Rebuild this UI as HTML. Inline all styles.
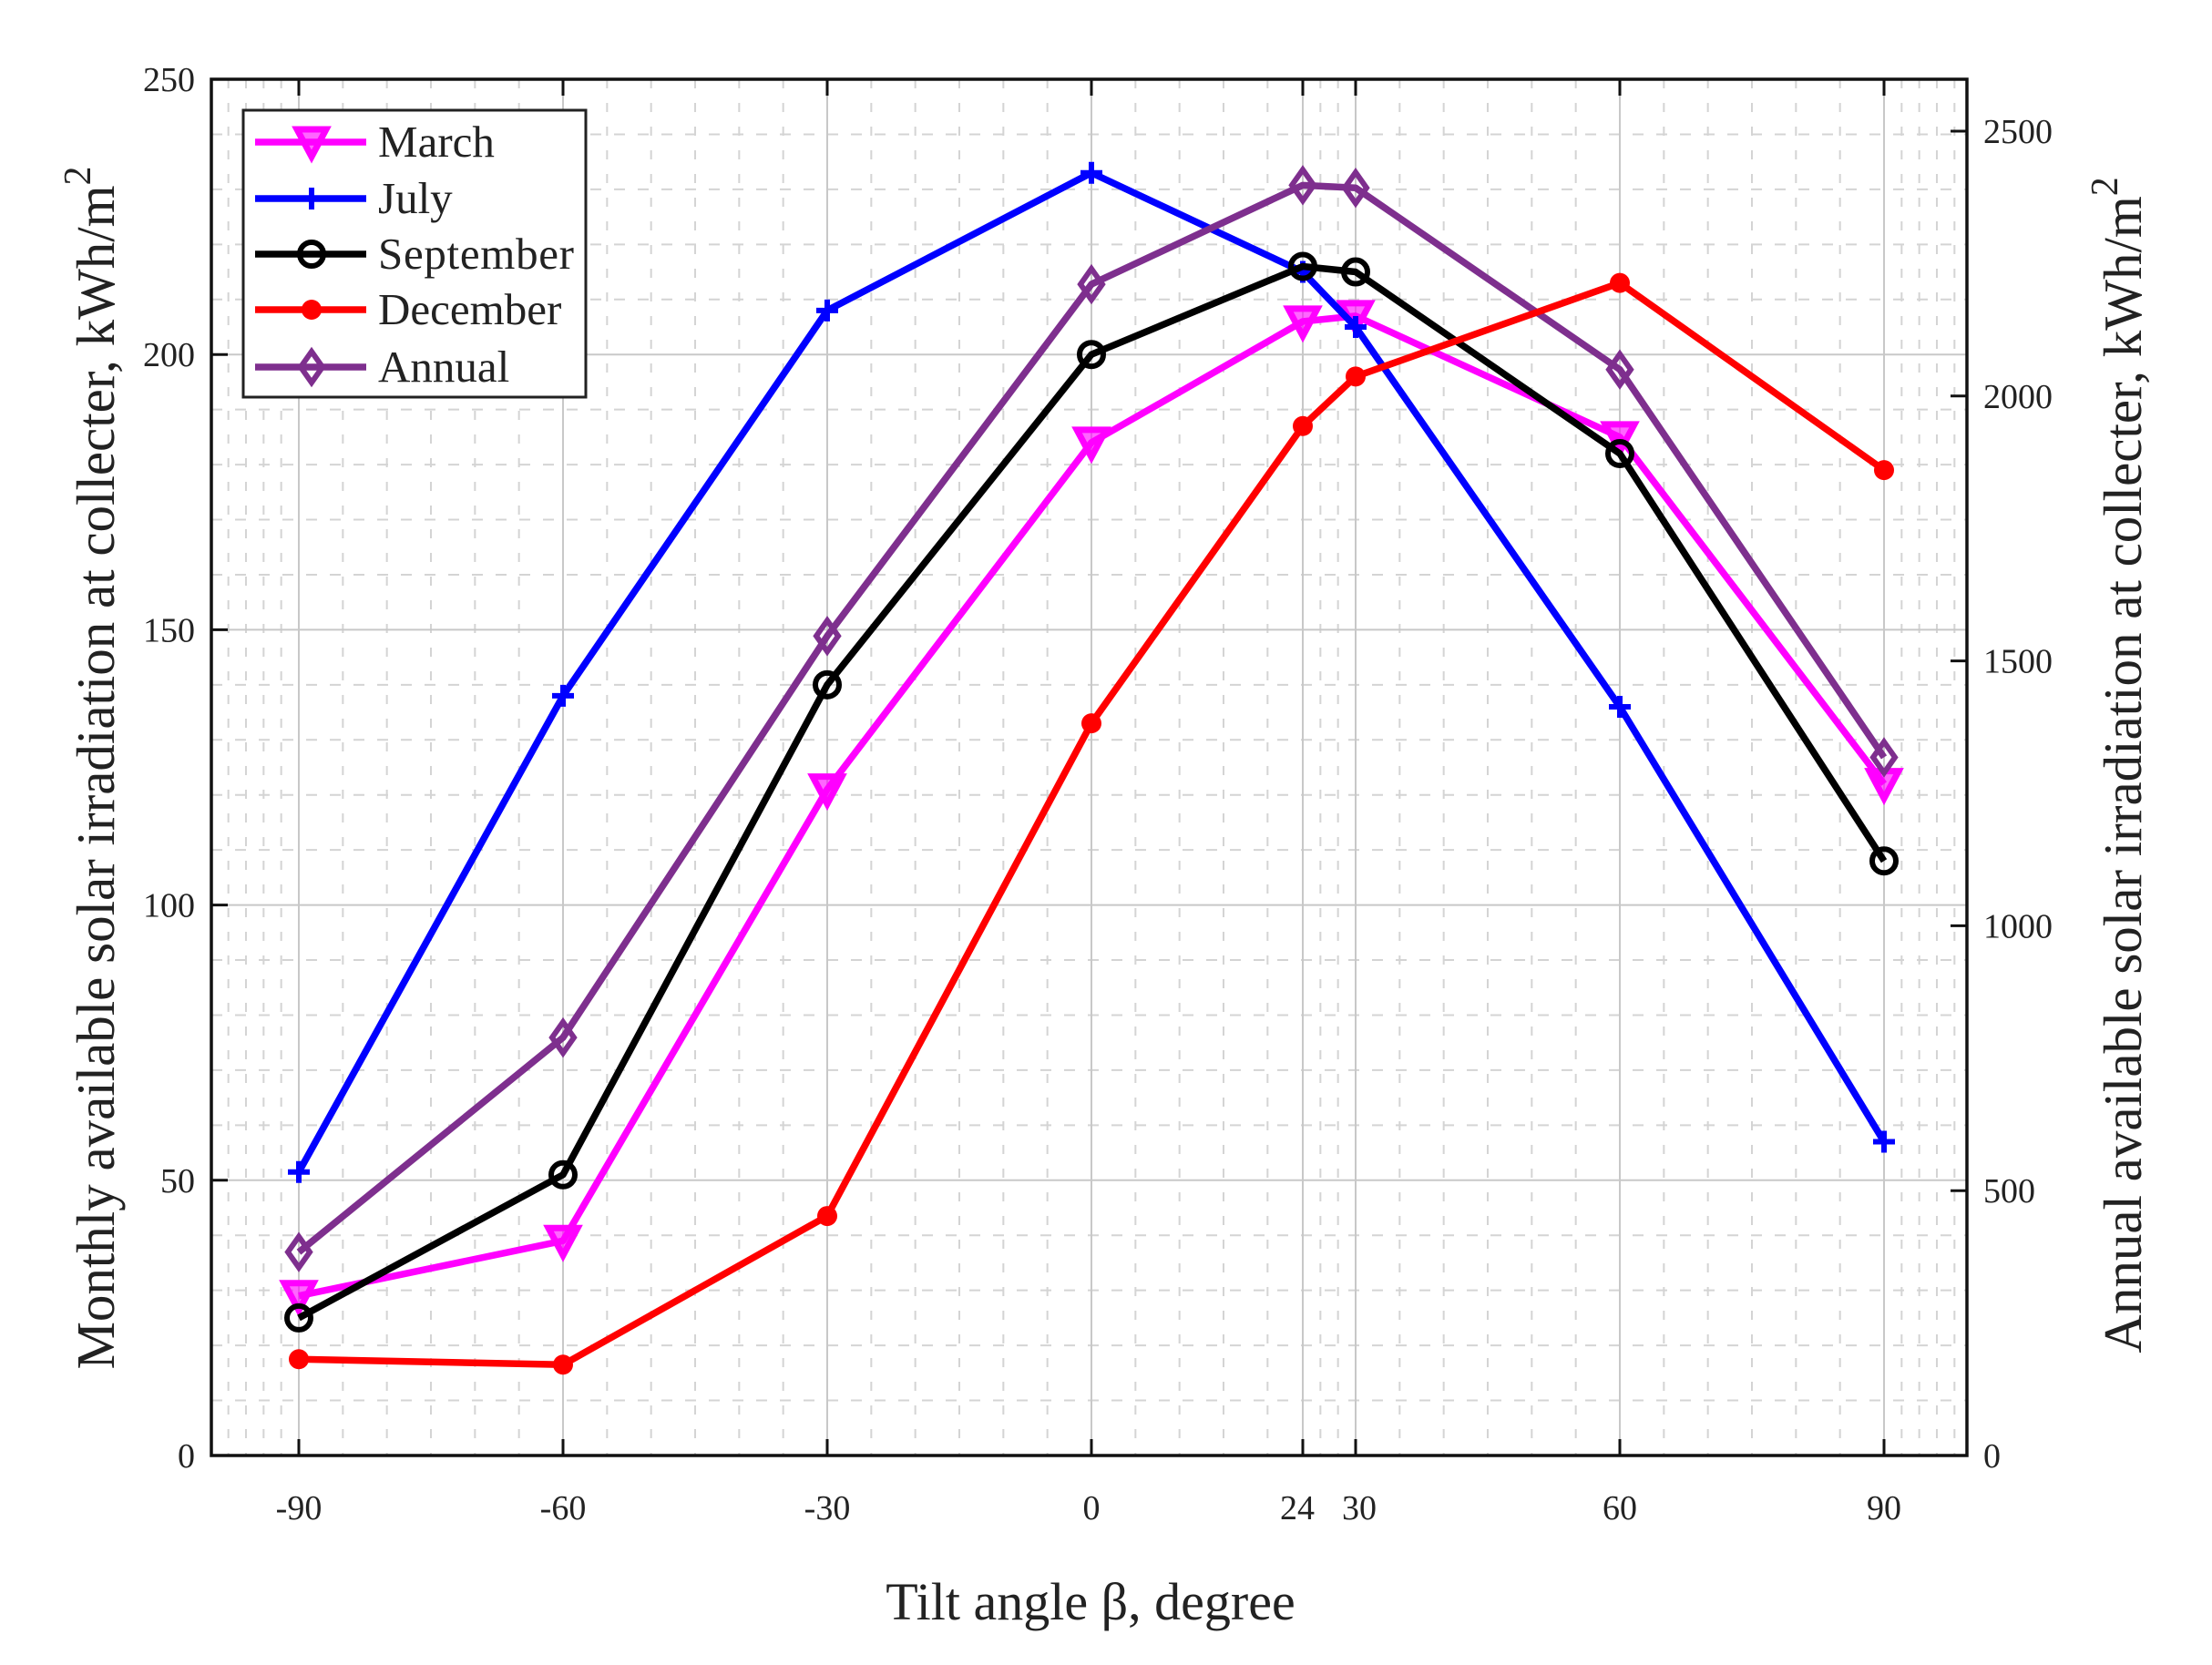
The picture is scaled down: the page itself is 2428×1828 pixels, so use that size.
<!DOCTYPE html>
<html><head><meta charset="utf-8"><style>
html,body{margin:0;padding:0;background:#fff;}
svg{display:block;}
text{font-family:"Liberation Serif",serif;fill:#222;}
</style></head><body>
<svg id="chart" width="2428" height="1828" viewBox="0 0 2428 1828">
<g id="grid"></g>
<g id="series"></g>
<g id="axes"></g>
<g id="legend"></g>
</svg>
<script>
const categories = [-90, -60, -30, 0, 24, 30, 60, 90];
const xTickLabels = ["-90", "-60", "-30", "0", "24", "30", "60", "90"];
const leftTicks = [0, 50, 100, 150, 200, 250];
const rightTicks = [0, 500, 1000, 1500, 2000, 2500];
const marchValues = [29, 39, 121, 184, 206, 207, 185, 122];
const julyValues = [51.5, 138, 208, 233, 215, 205, 136, 57];
const septemberValues = [25, 51, 140, 200, 216, 215, 182, 108];
const decemberValues = [17.5, 16.5, 43.5, 133, 187, 196, 213, 179];
const annualValues = [384, 789, 1547, 2211, 2398, 2393, 2050, 1318];

const NS = "http://www.w3.org/2000/svg";
const L = 232, R = 2159, T = 87, B = 1598;
const xs = d => 328 + (d + 90) * 290 / 30;
const yl = v => B - v * (B - T) / 250;
const yr = v => B - v * 1454 / 2500;

function mk(parent, tag, attrs, txt) {
  const e = document.createElementNS(NS, tag);
  for (const k in attrs) if (attrs[k] !== undefined) e.setAttribute(k, attrs[k]);
  if (txt !== undefined) e.textContent = txt;
  parent.appendChild(e);
  return e;
}
const grid = document.getElementById('grid');
const axes = document.getElementById('axes');
const series = document.getElementById('series');
const legend = document.getElementById('legend');

const minorX = [];
for (let d = -98; d < -90; d += 2) minorX.push(d);
for (let d = -85; d < 90; d += 5) if (!categories.includes(d) && d !== 25) minorX.push(d);
for (let d = 92; d < 100; d += 2) minorX.push(d);
[26, 28].forEach(d => minorX.push(d));
minorX.forEach(d => {
  const g = mk(grid, 'line', {x1: xs(d), x2: xs(d), y1: T, y2: B, stroke: '#d4d4d4', 'stroke-width': 2, 'stroke-dasharray': '10 16'});
  
  
});
for (let v = 10; v < 250; v += 10) {
  if (v % 50 === 0) continue;
  const g = mk(grid, 'line', {x1: L, x2: R, y1: yl(v), y2: yl(v), stroke: '#d4d4d4', 'stroke-width': 2, 'stroke-dasharray': '12 14'});
  
  
}
categories.forEach(d => {
  const g = mk(grid, 'line', {x1: xs(d), x2: xs(d), y1: T, y2: B, stroke: '#c8c8c8', 'stroke-width': 2});
  
  
});
leftTicks.forEach(v => {
  const g = mk(grid, 'line', {x1: L, x2: R, y1: yl(v), y2: yl(v), stroke: '#c8c8c8', 'stroke-width': 2});
  
  
});

function drawSeries(name, vals, yf, color, marker) {
  const g = mk(series, 'g', {});
  
  
  const pts = vals.map((v, i) => xs(categories[i]) + ',' + yf(v)).join(' ');
  const pl = mk(g, 'polyline', {points: pts, fill: 'none', stroke: color, 'stroke-width': 7.5, 'stroke-linejoin': 'round'});
  
  
  vals.forEach((v, i) => {
    const m = drawMarker(g, xs(categories[i]), yf(v), color, marker);
    
    
  });
}
function drawMarker(g, x, y, color, marker) {
  if (marker === 'tri') return mk(g, 'path', {d: `M${x-16},${y-14} L${x+16},${y-14} L${x},${y+16} Z`, fill: color, 'fill-opacity': 0.6, stroke: color, 'stroke-width': 7, 'stroke-linejoin': 'miter'});
  if (marker === 'plus') return mk(g, 'path', {d: `M${x-12},${y} H${x+12} M${x},${y-12} V${y+12}`, stroke: color, 'stroke-width': 6});
  if (marker === 'circle') return mk(g, 'circle', {cx: x, cy: y, r: 13, fill: 'none', stroke: color, 'stroke-width': 6});
  if (marker === 'dot') return mk(g, 'circle', {cx: x, cy: y, r: 11, fill: color});
  return mk(g, 'path', {d: `M${x},${y-17} L${x+12},${y} L${x},${y+17} L${x-12},${y} Z`, fill: 'none', stroke: color, 'stroke-width': 6});
}
drawSeries('march', marchValues, yl, '#ff00ff', 'tri');
drawSeries('july', julyValues, yl, '#0000ff', 'plus');
drawSeries('annual', annualValues, yr, '#7e2f8e', 'diamond');
drawSeries('september', septemberValues, yl, '#000', 'circle');
drawSeries('december', decemberValues, yl, '#ff0000', 'dot');

const fr = mk(axes, 'rect', {x: L, y: T, width: R - L, height: B - T, fill: 'none', stroke: '#111', 'stroke-width': 3.5});


categories.forEach((d, i) => {
  mk(axes, 'line', {x1: xs(d), x2: xs(d), y1: B, y2: B - 18, stroke: '#111', 'stroke-width': 3});
  mk(axes, 'line', {x1: xs(d), x2: xs(d), y1: T, y2: T + 18, stroke: '#111', 'stroke-width': 3});
  const t = mk(axes, 'text', {x: xs(d) + (d === 24 ? -6 : d === 30 ? 4 : 0), y: 1668, 'font-size': 38, 'text-anchor': 'middle'}, xTickLabels[i]);
  
  
});
leftTicks.forEach(v => {
  mk(axes, 'line', {x1: L, x2: L + 18, y1: yl(v), y2: yl(v), stroke: '#111', 'stroke-width': 3});
  const t = mk(axes, 'text', {x: L - 18, y: yl(v) + 13, 'font-size': 38, 'text-anchor': 'end'}, String(v));
  
  
});
rightTicks.forEach(v => {
  mk(axes, 'line', {x1: R, x2: R - 18, y1: yr(v), y2: yr(v), stroke: '#111', 'stroke-width': 3});
  const t = mk(axes, 'text', {x: R + 18, y: yr(v) + 13, 'font-size': 38, 'text-anchor': 'start'}, String(v));
  
  
});
const xt = mk(axes, 'text', {x: 1197, y: 1778, 'font-size': 58, 'text-anchor': 'middle'}, 'Tilt angle β, degree');


const ytl = mk(axes, 'text', {x: 0, y: 0, 'font-size': 59, 'text-anchor': 'middle', transform: 'translate(125,843) rotate(-90)'});
ytl.innerHTML = 'Monthly available solar irradiation at collecter, kWh/m<tspan dy="-26" font-size="42">2</tspan>';


const ytr = mk(axes, 'text', {x: 0, y: 0, 'font-size': 59, 'text-anchor': 'middle', transform: 'translate(2350,840) rotate(-90)'});
ytr.innerHTML = 'Annual available solar irradiation at collecter, kWh/m<tspan dy="-26" font-size="42">2</tspan>';



const lb = mk(legend, 'rect', {x: 267, y: 121, width: 376, height: 315, fill: '#fff', stroke: '#222', 'stroke-width': 3});


const legNames = ['March', 'July', 'September', 'December', 'Annual'];
const legColors = ['#ff00ff', '#0000ff', '#000', '#ff0000', '#7e2f8e'];
const legMarkers = ['tri', 'plus', 'circle', 'dot', 'diamond'];
const legY = [156, 218, 279, 340, 403];
legNames.forEach((n, i) => {
  const g = mk(legend, 'g', {});
  
  
  mk(g, 'line', {x1: 280, x2: 402, y1: legY[i], y2: legY[i], stroke: legColors[i], 'stroke-width': 7.5});
  drawMarker(g, 342, legY[i], legColors[i], legMarkers[i]);
  mk(g, 'text', {x: 415, y: legY[i] + 16, 'font-size': 49, textLength: n === 'September' ? 215 : undefined}, n);
});
</script>
</body></html>
